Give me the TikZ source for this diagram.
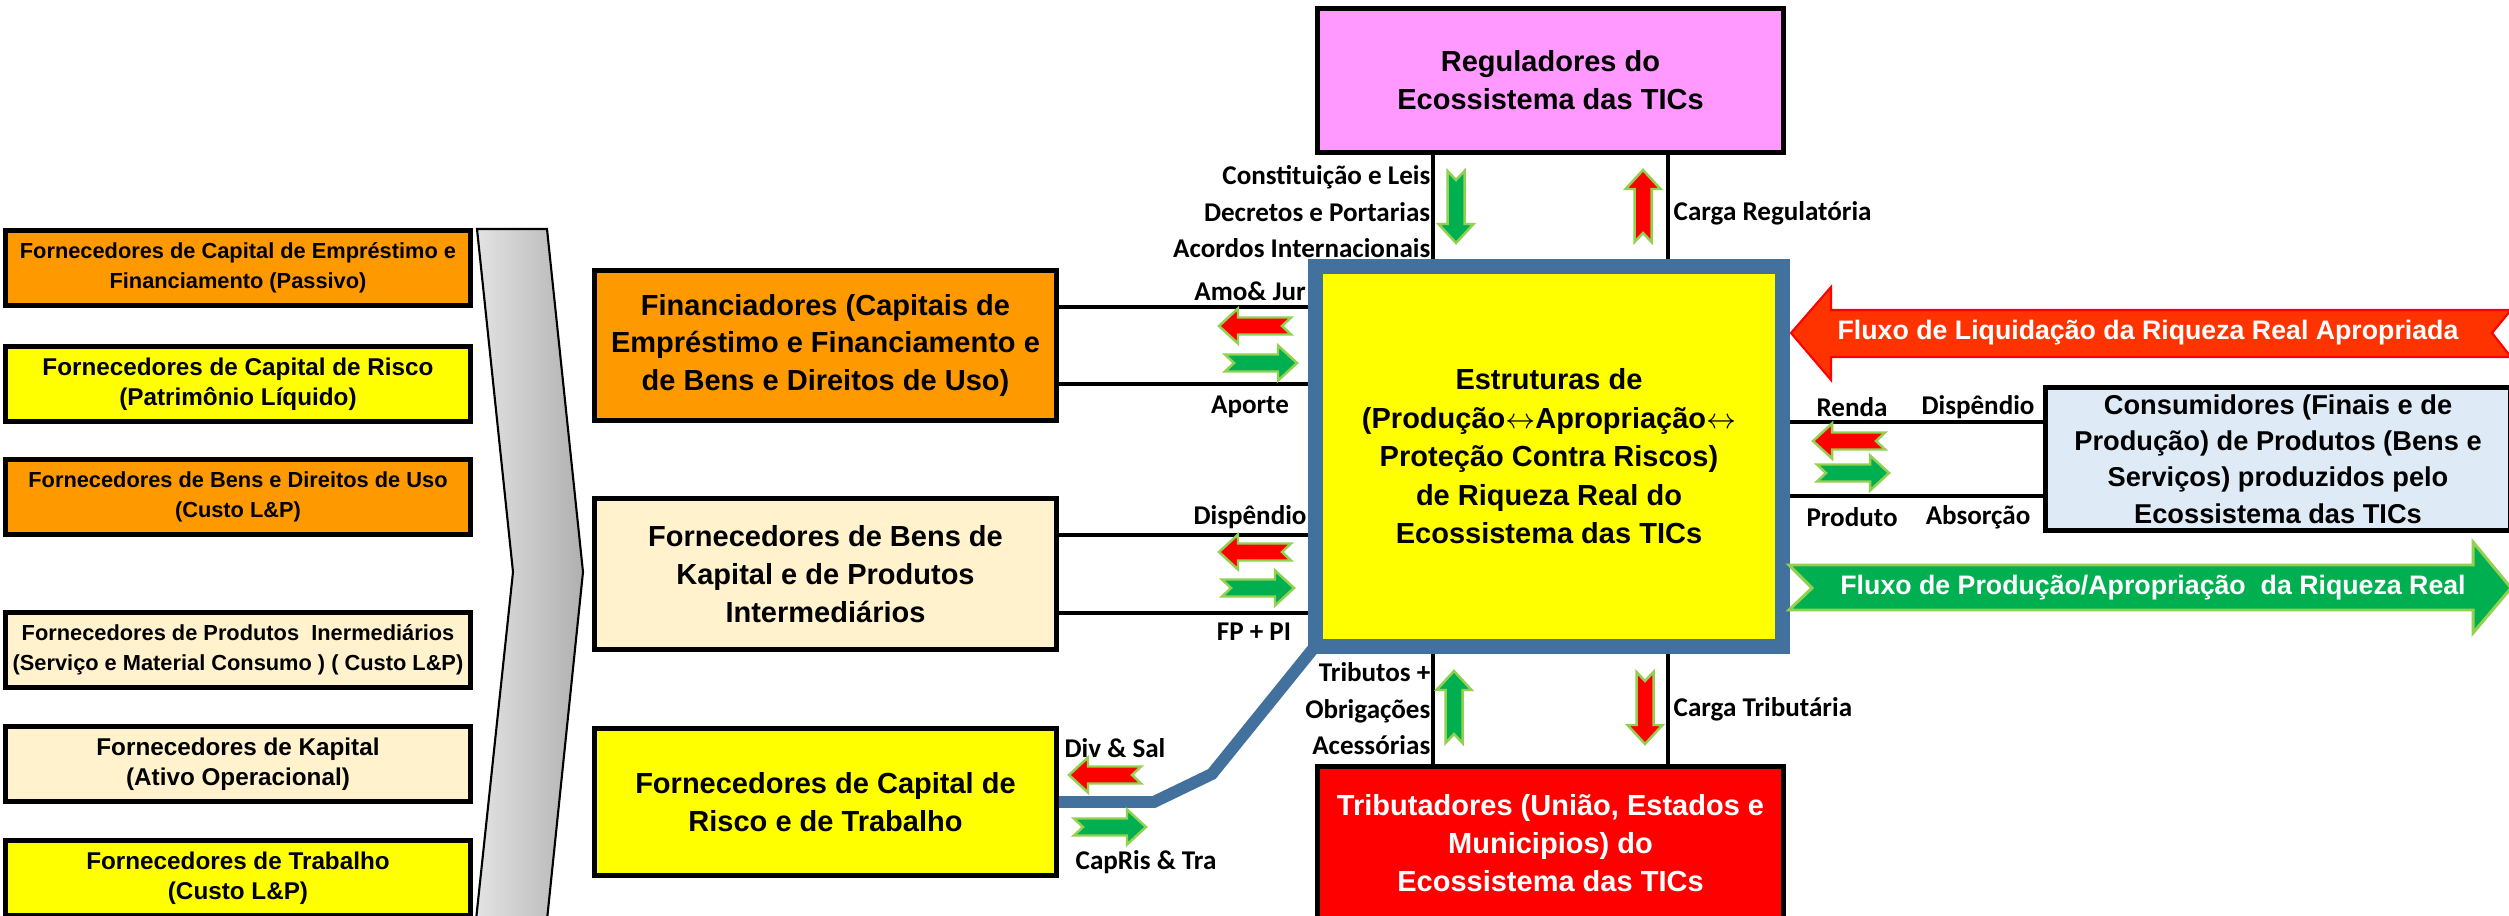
\documentclass[tikz,border=0pt]{standalone}
\usepackage{fontspec}
\setmainfont{Liberation Sans}
\newfontfamily\labelfont{Carlito}
\usepackage{tikz}
\usetikzlibrary{calc}

\definecolor{boxorange}{RGB}{255, 153, 0}
\definecolor{boxyellow}{RGB}{255, 255, 0}
\definecolor{boxcream}{RGB}{255, 242, 204}
\definecolor{boxpink}{RGB}{255, 153, 255}
\definecolor{boxblue}{RGB}{222, 235, 247}
\definecolor{boxred}{RGB}{255, 0, 0}
\definecolor{coreblue}{RGB}{65, 113, 156}
\definecolor{flowred}{RGB}{255, 51, 0}
\definecolor{flowgreen}{RGB}{0, 176, 80}
\definecolor{edgegreen}{RGB}{146, 208, 80}

\tikzstyle{source_box}=[draw=black, line width=1.28pt, align=center, minimum width=4.65cm,
    minimum height=0.75cm, inner sep=1pt]
\tikzstyle{actor_box}=[draw=black, line width=1.28pt, align=center, minimum width=4.62cm,
    font=\bfseries\fontsize{8.25}{10.8}\selectfont]
\tikzstyle{core_box}=[draw=coreblue, fill=boxyellow, line width=4.27pt, align=center,
    minimum width=4.67cm, minimum height=3.8cm, font=\bfseries\fontsize{8.25}{10.95}\selectfont]
\tikzstyle{flow_line}=[line width=1.14pt]
\tikzstyle{core_link}=[draw=coreblue, line width=3.4pt]
\tikzstyle{flow_label}=[inner sep=0pt, font=\labelfont\bfseries\fontsize{7.7}{10.4}\selectfont]
\tikzstyle{small_flow}=[draw=edgegreen, line width=0.7pt]
\tikzstyle{big_flow_text}=[text=white, inner sep=0pt, font=\bfseries\fontsize{7.6}{9}\selectfont]
\tikzstyle{chevron}=[draw=black, line width=0.6pt, left color=gray!22, right color=gray!62]

\begin{document}
\begin{tikzpicture}[x=0.01cm, y=-0.01cm]
  % Page frame, in pixels of the original slide
  \path[use as bounding box, fill=white] (0,0) rectangle (2509,916);

  % Grey chevron gathering the suppliers
  \draw[chevron] (477,229) -- (547,229) -- (583,572) -- (547,920) -- (476,920) -- (513,572) -- cycle;

  % Suppliers column on the left
  \foreach \name/\ypos/\boxfill/\fsize/\txt in {
      supA/268/boxorange/6.2/{Fornecedores de Capital de Empréstimo e\\Financiamento (Passivo)},
      supB/384/boxyellow/6.9/{Fornecedores de Capital de Risco\\(Patrimônio Líquido)},
      supC/497/boxorange/6.2/{Fornecedores de Bens e Direitos de Uso\\(Custo L\&P)},
      supD/650/boxcream/6.2/{Fornecedores de Produtos\ \ Inermediários\\(Serviço e Material Consumo ) ( Custo L\&P)},
      supE/764/boxcream/6.9/{Fornecedores de Kapital\\(Ativo Operacional)},
      supF/878/boxyellow/6.9/{Fornecedores de Trabalho\\(Custo L\&P)}} {
    \node[source_box, fill=\boxfill, font=\bfseries\fontsize{\fsize}{8.5}\selectfont] (\name) at (238,\ypos) {\txt};
  }

  % Actors around the core
  \node[actor_box, fill=boxorange, minimum height=1.5cm] (fin) at (825.5,345.5)
    {Financiadores (Capitais de\\Empréstimo e Financiamento e\\de Bens e Direitos de Uso)};
  \node[actor_box, fill=boxcream, minimum height=1.51cm] (bens) at (825.5,574)
    {Fornecedores de Bens de\\Kapital e de Produtos\\Intermediários};
  \node[actor_box, fill=boxyellow, minimum height=1.47cm] (risk) at (825.5,802)
    {Fornecedores de Capital de\\Risco e de Trabalho};
  \node[actor_box, fill=boxpink, minimum width=4.66cm, minimum height=1.44cm] (reg) at (1550.5,80.5)
    {Reguladores do\\Ecossistema das TICs};
  \node[actor_box, fill=boxred, text=white, minimum width=4.66cm, minimum height=1.53cm] (trib) at (1550.5,843)
    {Tributadores (União, Estados e\\Municipios) do\\Ecossistema das TICs};
  \node[actor_box, fill=boxblue, minimum width=4.65cm, minimum height=1.43cm, inner ysep=0pt,
    font=\bfseries\fontsize{7.75}{10.35}\selectfont] (cons) at (2278,459)
    {Consumidores (Finais e de\\Produção) de Produtos (Bens e\\Serviços) produzidos pelo\\Ecossistema das TICs};

  % The core structure
  \node[core_box] (core) at (1549,456.5)
    {Estruturas de\\(Produção$\leftrightarrow$Apropriação$\leftrightarrow$\\Proteção Contra Riscos)\\de Riqueza Real do\\Ecossistema das TICs};

  % Pairs of lines joining the actors to the core
  \foreach \src in {fin, bens} {
    \foreach \pos in {0.25, 0.75} {
      \coordinate (p) at ($(\src.north east)!\pos!(\src.south east)$);
      \draw[flow_line] (p) -- (p -| core.west);
    }
  }
  \foreach \pos in {0.25, 0.75} {
    \coordinate (p) at ($(reg.south west)!\pos!(reg.south east)$);
    \draw[flow_line] (p) -- (p |- core.north);
    \coordinate (p) at ($(trib.north west)!\pos!(trib.north east)$);
    \draw[flow_line] (p) -- (p |- core.south);
    \coordinate (p) at ($(cons.north west)!\pos!(cons.south west)$);
    \draw[flow_line] (p -| core.east) -- (p);
  }

  % Blue link from capital and labour to the core corner
  \draw[core_link] (risk.east) -- ++(95,0) -- ++(58,-28) -- ($(core.south west)+(5,-5)$);

  % Small notched arrows, placed by hand
  \foreach \px/\py/\ang/\col in {1255/326/180/boxred, 1261/363/0/flowgreen,
      1255/552/180/boxred, 1258/588/0/flowgreen, 1105/775/180/boxred, 1110/827/0/flowgreen,
      1456/207/-90/flowgreen, 1643/206/90/boxred, 1454/707/90/flowgreen, 1645/708/-90/boxred,
      1849/441/180/boxred, 1853/473/0/flowgreen} {
    \filldraw[small_flow, fill=\col, shift={(\px,\py)}, rotate=\ang]
      (-36,-8.5) -- (17,-8.5) -- (17,-17.5) -- (36,0) -- (17,17.5) -- (17,8.5) -- (-36,8.5) -- (-27,0) -- cycle;
  }

  % Labels on the flows
  \node[flow_label] (amo) at (1250,291) {Amo\& Jur};
  \node[flow_label] (aporte) at (1250,407) {Aporte};
  \node[flow_label] (dispbens) at (1250,517) {Dispêndio};
  \node[flow_label] (fppi) at (1254,632) {FP + PI};
  \node[flow_label] (divsal) at (1115,748) {Div \& Sal};
  \node[flow_label] (capris) at (1146,862) {CapRis \& Tra};
  \node[flow_label, anchor=east, align=right] (regin) at (1431,212) {Constituição e Leis\\Decretos e Portarias\\Acordos Internacionais};
  \node[flow_label, anchor=west] (regout) at (1673,213) {Carga Regulatória};
  \node[flow_label, anchor=east, align=right] (tribin) at (1431,709) {Tributos +\\Obrigações\\Acessórias};
  \node[flow_label, anchor=west] (tribout) at (1673,709) {Carga Tributária};
  \node[flow_label] (renda) at (1852,407) {Renda};
  \node[flow_label] (dispcons) at (1978,407) {Dispêndio};
  \node[flow_label] (produto) at (1852,517) {Produto};
  \node[flow_label] (absorcao) at (1978,517) {Absorção};

  % Big flows on the right
  \filldraw[fill=flowred, draw=boxred, line width=0.6pt]
    (1791,333) -- (1831,287) -- (1831,310) -- (2511,310) -- (2492,333) -- (2511,357) -- (1831,357) -- (1831,380) -- cycle;
  \node[big_flow_text] (liq) at (2148,333) {Fluxo de Liquidação da Riqueza Real Apropriada};
  \filldraw[fill=flowgreen, draw=edgegreen, line width=0.85pt]
    (1789,565) -- (2473,565) -- (2473,542) -- (2511,588) -- (2473,633) -- (2473,610) -- (1789,610) -- (1812,588) -- cycle;
  \node[big_flow_text] (prod) at (2153,588) {Fluxo de Produção/Apropriação\ \ da Riqueza Real};

\end{tikzpicture}
\end{document}
